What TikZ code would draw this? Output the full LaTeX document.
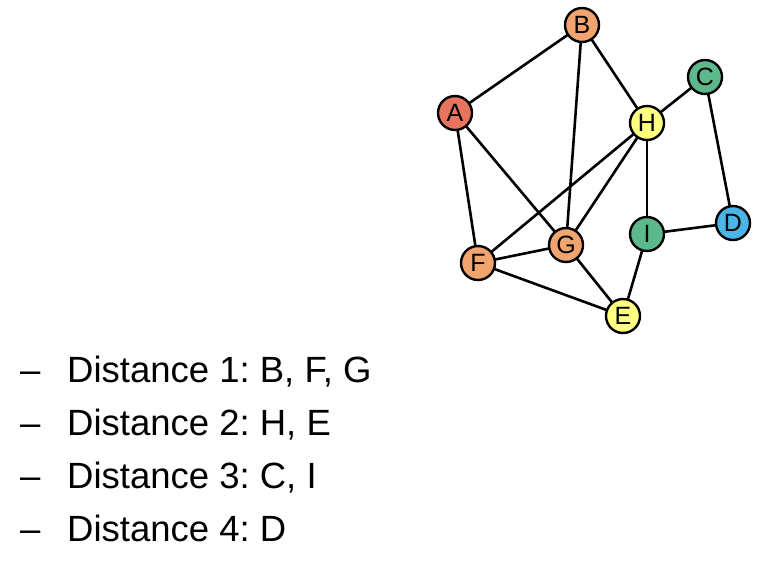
\documentclass[tikz,border=0pt]{standalone}
\usepackage{fontspec}
\setmainfont{Liberation Sans}
\usepackage{xcolor}
\usepackage{tikz}
\usetikzlibrary{positioning,backgrounds}

\definecolor{nodered}{HTML}{E8735E}
\definecolor{nodeorange}{HTML}{F2A46E}
\definecolor{nodegreen}{HTML}{5DB98B}
\definecolor{nodeblue}{HTML}{4CB5E8}
\definecolor{nodeyellow}{HTML}{FFFF80}

\begin{document}
\begin{tikzpicture}[
    x=1pt, y=-1pt,
    vertex/.style={circle, draw=black, line width=2.4pt, minimum size=34pt, inner sep=0pt, font=\fontsize{25}{25}\selectfont},
    src/.style={vertex, fill=nodered},
    dist1/.style={vertex, fill=nodeorange},
    dist2/.style={vertex, fill=nodeyellow},
    dist3/.style={vertex, fill=nodegreen},
    dist4/.style={vertex, fill=nodeblue},
    edge/.style={line width=2.6pt, black},
    item/.style={anchor=base west, inner sep=0pt, font=\fontsize{36.5}{37}\selectfont\frenchspacing},
]
\useasboundingbox (0,0) rectangle (765,576);

% Graph
\node[dist1] (B) at (582,25) {B};
\node[src]   (A) at (455,113) {A};
\node[dist3] (C) at (705,77) {C};
\node[dist2] (H) at (647,123) {H};
\node[dist4] (D) at (733,223) {D};
\node[dist3] (I) at (647,234) {I};
\node[dist1] (G) at (566,245) {G};
\node[dist1] (F) at (478,263) {F};
\node[dist2] (E) at (623,316) {E};

\begin{scope}[on background layer]
\foreach \u/\v in {A/B, B/G, B/H, A/G, A/F, H/C, C/D, H/F, H/G, H/I, I/D, I/E, F/G, F/E, G/E}
    \draw[edge] (\u.center) -- (\v.center);
\end{scope}

% Distance list
\node[item] (dash1) at (20,382) {–};
\node[item] (line1) at (67,382) {Distance 1: B, F, G};
\node[item] (dash2) at (20,435) {–};
\node[item] (line2) at (67,435) {Distance 2: H, E};
\node[item] (dash3) at (20,488) {–};
\node[item] (line3) at (67,488) {Distance 3: C, I};
\node[item] (dash4) at (20,541) {–};
\node[item] (line4) at (67,541) {Distance 4: D};

\end{tikzpicture}
\end{document}
